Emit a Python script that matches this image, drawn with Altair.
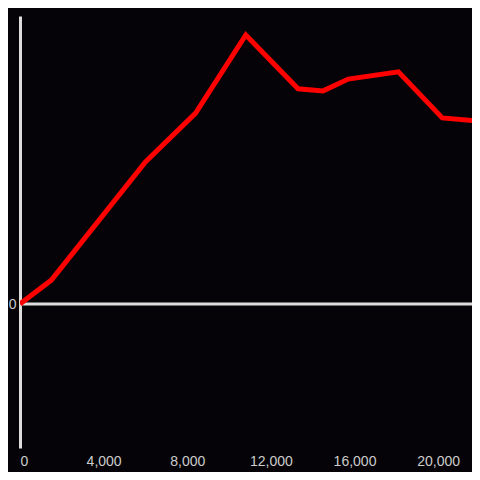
import altair as alt
import pandas as pd

xs = [0, 1500, 6000, 8400, 10800, 13300, 14500, 15700, 18100, 20200, 22000]
ys = [0, 8.3, 49.3, 66.3, 93.4, 74.7, 74.0, 78.1, 80.6, 64.6, 63.5]
x_ticks = [0, 4000, 8000, 12000, 16000, 20000]

df = pd.DataFrame({"x": xs, "y": ys})

xscale = alt.Scale(domain=[0, 21620], nice=False, zero=False)
yscale = alt.Scale(domain=[-50, 100], nice=False)

line = alt.Chart(df).mark_line(color="#ff0000", strokeWidth=5, strokeJoin="miter", strokeCap="butt", clip=True).encode(
    x=alt.X("x:Q", scale=xscale, title=None,
            axis=alt.Axis(values=x_ticks, format=",.0f", domain=False, ticks=False, grid=False,
                          labelColor="#cccccc", labelFontSize=14, labelPadding=6, labelFont="Liberation Sans")),
    y=alt.Y("y:Q", scale=yscale, title=None,
            axis=alt.Axis(values=[0], format=".0f", domain=True, domainColor="#dddddd", domainWidth=3, ticks=False, grid=False,
                          labelColor="#cccccc", labelFontSize=14, labelPadding=4, labelFont="Liberation Sans")),
)

zero = alt.Chart(pd.DataFrame({"y": [0]})).mark_rule(color="#dddddd", strokeWidth=3).encode(
    y=alt.Y("y:Q", scale=yscale)
)

chart = (zero + line).properties(
    width=452, height=432, background="#050307",
    padding={"left": 12, "top": 8, "right": 0, "bottom": 24},
    autosize=alt.AutoSizeParams(type="none"),
).configure_view(stroke=None)

chart.save("out.html", embed_options={"renderer": "svg", "actions": False})
